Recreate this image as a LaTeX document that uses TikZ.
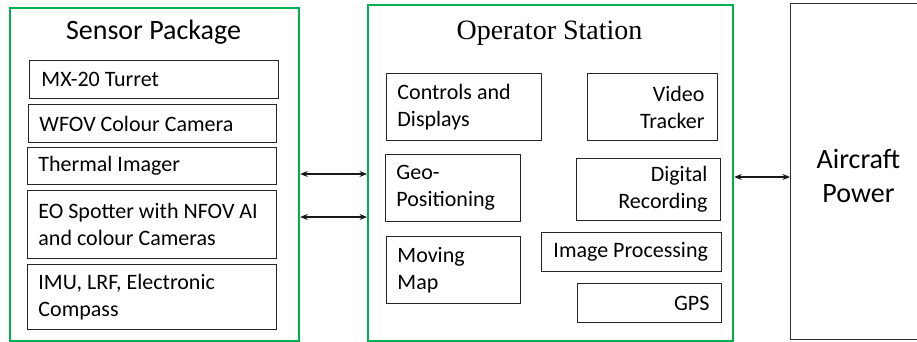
\documentclass[tikz,border=0pt]{standalone}
\usepackage{fontspec}
\setmainfont{Carlito}
\newfontfamily\timesfont{Liberation Serif}
\usetikzlibrary{arrows.meta}
\definecolor{boxgreen}{RGB}{0,176,80}
\newcommand{\oneline}[1]{\mbox{#1}}
\begin{document}
\begin{tikzpicture}[x=1pt,y=-1pt,
  group/.style={draw=boxgreen, line width=2.2pt, anchor=north west, inner sep=0pt},
  item/.style={draw=black!85, line width=0.9pt, anchor=north west, inner xsep=11pt, inner ysep=0pt,
    font=\fontsize{22}{27}\selectfont},
  ritem/.style={item, inner xsep=13pt, align=flush right},
  litem/.style={item, align=flush left},
  title/.style={anchor=base, font=\fontsize{28}{34}\selectfont},
  arr/.style={{Stealth[length=7.5pt,width=6pt]}-{Stealth[length=7.5pt,width=6pt]}, line width=1.1pt, draw=black!90}
]
\useasboundingbox (0,0) rectangle (917,341);

% Sensor package
\node[group, minimum width=289pt, minimum height=333pt] (sp) at (9,7) {};
\node[title] (spt) at (153.5,39) {Sensor Package};
\node[litem, text width=227pt, minimum height=38pt] (mx) at (29,60) {\hspace*{1pt}\oneline{MX-20 Turret}};
\node[litem, text width=226pt, minimum height=38pt] (wfov) at (28,104) {\oneline{WFOV Colour Camera}};
\node[litem, text width=227pt, minimum height=37pt] (therm) at (27,147) {\oneline{Thermal Imager}};
\node[litem, text width=227pt, minimum height=68pt] (eo) at (27,190) {\oneline{EO Spotter with NFOV AI}\\\oneline{and colour Cameras}};
\node[litem, text width=227pt, minimum height=65pt] (imu) at (27,264) {\oneline{IMU, LRF, Electronic}\\\oneline{Compass}};

% Operator station
\node[group, minimum width=365pt, minimum height=336pt] (os) at (367,4) {};
\node[title, font=\fontsize{28}{34}\timesfont] (ost) at (549.5,39) {Operator Station};
\node[litem, text width=133pt, minimum height=67pt] (ctrl) at (386,73) {\oneline{Controls and}\\\oneline{Displays}};
\node[ritem, text width=104pt, minimum height=67pt] (video) at (587,73) {\oneline{Video}\\\oneline{Tracker}};
\node[litem, text width=113pt, minimum height=67pt] (geo) at (385,154) {\oneline{Geo-}\\\oneline{Positioning}};
\node[ritem, text width=118pt, minimum height=62pt] (dig) at (576,158) {\oneline{Digital}\\\oneline{Recording}};
\node[litem, text width=112pt, minimum height=67pt] (map) at (386,236) {\oneline{Moving}\\\oneline{Map}};
\node[litem, inner xsep=12pt, text width=156pt, minimum height=39pt] (img) at (541,232) {\oneline{Image Processing}};
\node[ritem, inner xsep=12pt, text width=120pt, minimum height=39pt] (gps) at (577,283) {\oneline{GPS}};

% Aircraft power
\node[draw=black!80, line width=0.9pt, anchor=north west, minimum width=136pt, minimum height=336pt] (ap) at (790,3) {};
\node[align=center, font=\fontsize{28}{34}\selectfont] (apt) at ([yshift=-5pt]ap.center) {Aircraft\\Power};

% Connectors
\draw[arr] (sp.east |- 0,174) -- (os.west |- 0,174);
\draw[arr] (sp.east |- 0,217) -- (os.west |- 0,217);
\draw[arr] (os.east |- 0,177) -- (ap.west |- 0,177);
\end{tikzpicture}
\end{document}
